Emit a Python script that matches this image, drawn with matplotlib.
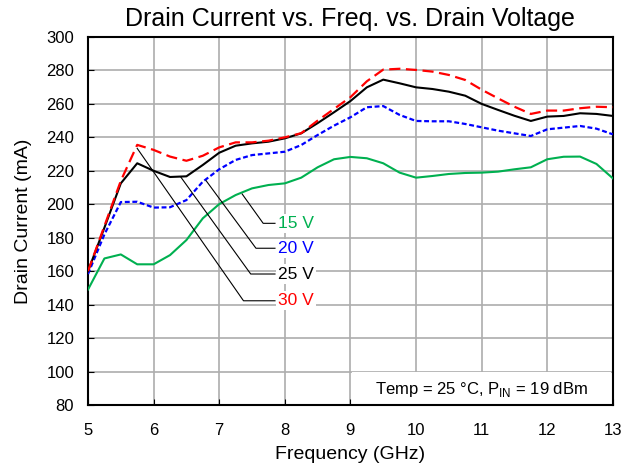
import matplotlib.pyplot as plt
from matplotlib.patches import Rectangle

plt.rcParams['font.family'] = ['Liberation Sans', 'DejaVu Sans']

freq = [5, 5.25, 5.5, 5.75, 6, 6.25, 6.5, 6.75, 7, 7.25, 7.5, 7.75, 8, 8.25, 8.5, 8.75,
        9, 9.25, 9.5, 9.75, 10, 10.25, 10.5, 10.75, 11, 11.25, 11.5, 11.75, 12, 12.25,
        12.5, 12.75, 13]

i_30v = [160, 187, 214, 235.5, 232.5, 228.5, 226, 229, 234, 237, 237, 238, 240, 242.5,
         250, 257, 264, 273.5, 280.5, 281, 280.3, 279.3, 277.3, 274.3, 268.5, 263.3,
         258.3, 254, 256, 256, 257.4, 258.3, 258]
i_25v = [160, 186, 212.5, 224.5, 220, 216.3, 216.7, 223.5, 230.8, 235, 236.4, 237.4,
         239.4, 242.4, 248.5, 255, 261.7, 269.9, 274.5, 272.3, 269.9, 268.9, 267.3,
         264.9, 260, 256.4, 252.9, 249.8, 252.4, 252.8, 254.4, 254, 252.8]
i_20v = [158.3, 182, 201.3, 201.5, 198, 198.2, 202.5, 213.5, 220.9, 226.5, 229.4, 230.4,
         231.4, 235.4, 241.4, 247, 252, 258, 258.7, 253.4, 249.8, 249.6, 249.6, 248, 246,
         244, 242.4, 240.8, 244.8, 245.8, 246.8, 245.2, 241.8]
i_15v = [149, 167.6, 170, 164.1, 164.1, 169.6, 178.6, 191.6, 200.1, 205.5, 209.5, 211.5,
         212.5, 215.9, 222.1, 226.9, 228.3, 227.5, 224.5, 218.9, 215.9, 216.9, 218.1,
         218.7, 218.9, 219.5, 220.9, 222.1, 226.9, 228.4, 228.5, 224.1, 215.5]

# callout labels: (text, color, point on curve, elbow point)
labels = ["15 V", "20 V", "25 V", "30 V"]
label_colors = ["#00b050", "#0000ff", "black", "#ff0000"]
label_start = [(7.35, 206.1), (6.80, 214.1), (6.41, 216.5), (5.75, 233.4)]
label_elbow = [(7.67, 188.6), (7.56, 173.7), (7.48, 158.3), (7.37, 142.3)]
label_y = [188.6, 173.7, 158.3, 142.3]

fig = plt.figure(figsize=(6.26, 4.67), dpi=100)
ax = fig.add_axes([0.1406, 0.1328, 0.8384, 0.788])

ax.plot(freq, i_15v, color="#00b050", lw=1.5, zorder=3)
ax.plot(freq, i_20v, color="#0000ff", lw=1.6, dashes=(2.2, 1.2), zorder=3)
ax.plot(freq, i_25v, color="black", lw=1.5, zorder=3)
ax.plot(freq, i_30v, color="#ff0000", lw=1.6, dashes=(5, 2.5), zorder=3)

for txt, c, s, e, ly in zip(labels, label_colors, label_start, label_elbow, label_y):
    ax.plot([s[0], e[0], 7.85], [s[1], e[1], ly], color="black", lw=0.8, zorder=4)
    ax.text(7.9, ly, txt, color=c, fontsize=12.5, va="center", ha="left", zorder=5,
            bbox=dict(facecolor="white", edgecolor="none", pad=1.5))

ax.add_patch(Rectangle((9.03, 80.4), 3.94, 19.3, facecolor="white", edgecolor="none", zorder=2))
ax.text(11.0, 89.5, "Temp = 25 °C, P$_{\\mathregular{IN}}$ = 19 dBm", fontsize=12,
        ha="center", va="center", zorder=5)

ax.set_xlim(5, 13)
ax.set_ylim(80, 300)
ax.set_xticks(range(5, 14))
ax.set_yticks(range(80, 301, 20))
ax.grid(True, color="#adadad", lw=1.2)
ax.set_axisbelow(True)
ax.tick_params(direction="in", labelsize=12, length=4)
ax.tick_params(axis="x", pad=13)
ax.tick_params(axis="y", pad=10)
for sp in ax.spines.values():
    sp.set_linewidth(1.5)
ax.set_xlabel("Frequency (GHz)", fontsize=14, labelpad=6)
ax.set_ylabel("Drain Current (mA)", fontsize=14, labelpad=10)
ax.set_title("Drain Current vs. Freq. vs. Drain Voltage", fontsize=18, pad=8)

fig.savefig("out.png", dpi=100)
